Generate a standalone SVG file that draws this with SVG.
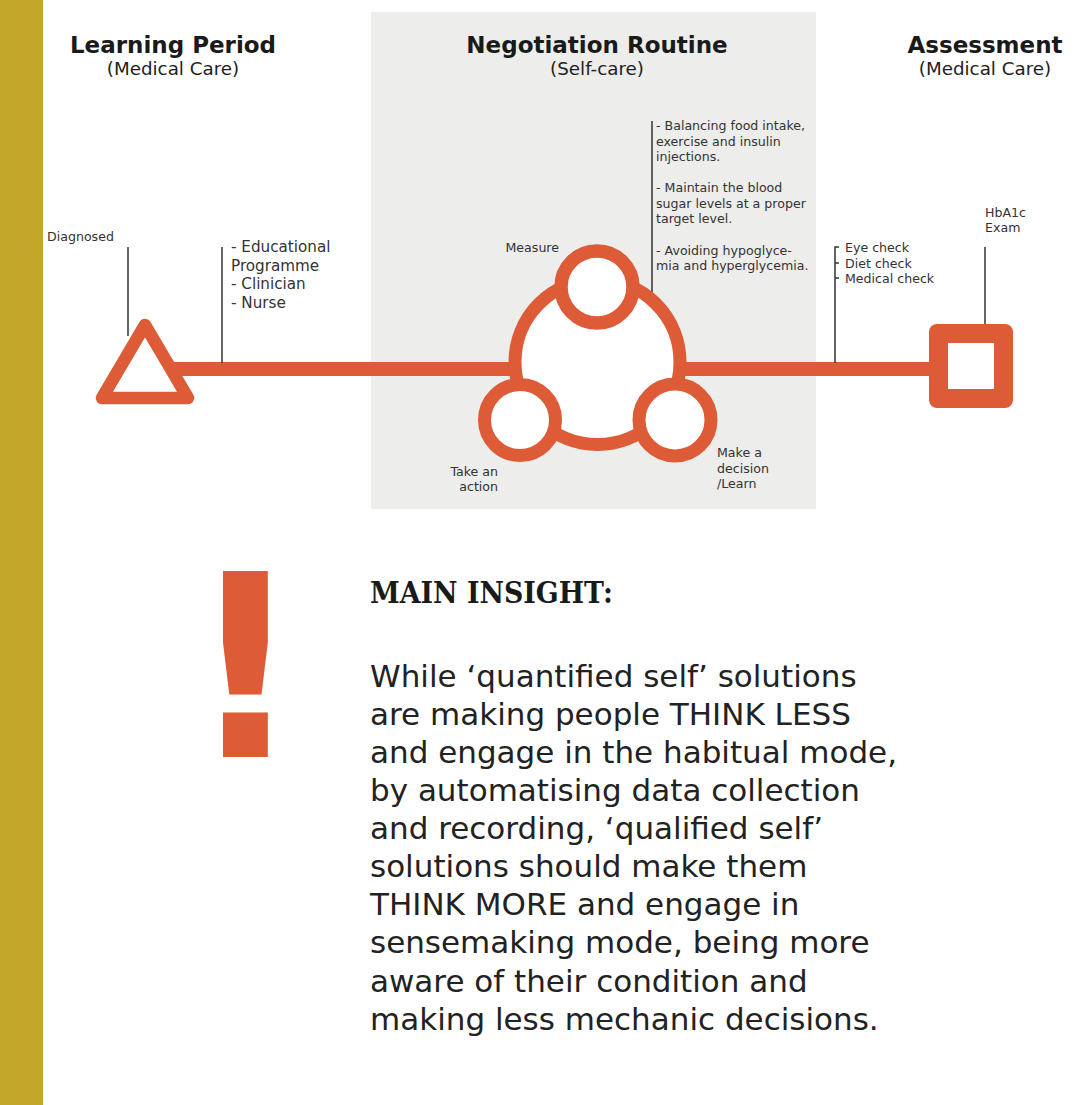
<svg xmlns="http://www.w3.org/2000/svg" width="1080" height="1105" viewBox="0 0 1080 1105">
<style>
.h{font-family:"DejaVu Sans","Liberation Sans",sans-serif;font-weight:bold;font-size:23px;fill:#1a1a1a;text-anchor:middle}
.sub{font-family:"DejaVu Sans","Liberation Sans",sans-serif;font-size:18.3px;fill:#222;text-anchor:middle}
.s{font-family:"DejaVu Sans","Liberation Sans",sans-serif;font-size:12.6px;fill:#333}
.m{font-family:"DejaVu Sans","Liberation Sans",sans-serif;font-size:15.2px;fill:#333}
.body{font-family:"DejaVu Sans","Liberation Sans",sans-serif;font-size:31px;fill:#222}
.or{stroke:#DD5B36;fill:#fff}
.vl{stroke:#333;stroke-width:1.5;fill:none}
.tl{stroke:#DD5B36;stroke-width:14;fill:none}
</style>
<rect x="0" y="0" width="1080" height="1105" fill="#fff"/>
<rect x="0" y="0" width="43" height="1105" fill="#C2A72A"/>
<rect x="371" y="12" width="445" height="497" fill="#EDEDEB"/>

<g id="headers">
<text class="h" x="173" y="53">Learning Period</text>
<text class="sub" x="173" y="75">(Medical Care)</text>
<text class="h" x="597" y="53">Negotiation Routine</text>
<text class="sub" x="597" y="75">(Self-care)</text>
<text class="h" x="985" y="53">Assessment</text>
<text class="sub" x="985" y="75">(Medical Care)</text>
</g>

<g id="connectors">
<line class="tl" x1="169" y1="369" x2="516" y2="369"/>
<line class="tl" x1="679" y1="369" x2="932" y2="369"/>
<line class="vl" x1="128" y1="247" x2="128" y2="336"/>
<line class="vl" x1="222" y1="247" x2="222" y2="363"/>
<line class="vl" x1="652" y1="121" x2="652" y2="298"/>
<path class="vl" d="M839 247 H835 V363 M835 263 H839 M835 278 H839"/>
<line class="vl" x1="985" y1="247" x2="985" y2="325"/>
</g>

<g id="node-diagnosed">
<polygon class="or" points="145,325 102,398 188,398" stroke-width="12.5" stroke-linejoin="round"/>
<text class="s" x="47" y="241">Diagnosed</text>
</g>

<g id="node-education">
<text class="m" x="231" y="252">- Educational</text>
<text class="m" x="231" y="270.5">Programme</text>
<text class="m" x="231" y="289">- Clinician</text>
<text class="m" x="231" y="307.5">- Nurse</text>
</g>

<g id="node-routine">
<circle class="or" cx="597.5" cy="362" r="82.5" stroke-width="13"/>
<circle class="or" cx="597" cy="287" r="36" stroke-width="13.5"/>
<circle class="or" cx="520" cy="420" r="35.5" stroke-width="13"/>
<circle class="or" cx="675" cy="420" r="36" stroke-width="13"/>
<text class="s" x="505.5" y="252">Measure</text>
<text class="s" x="498" y="476" text-anchor="end">Take an</text>
<text class="s" x="498" y="491" text-anchor="end">action</text>
<text class="s" x="717" y="457">Make a</text>
<text class="s" x="717" y="473">decision</text>
<text class="s" x="717" y="488">/Learn</text>
</g>

<g id="node-routine-notes">
<text class="s" x="656" y="130">- Balancing food intake,</text>
<text class="s" x="656" y="146">exercise and insulin</text>
<text class="s" x="656" y="161">injections.</text>
<text class="s" x="656" y="192">- Maintain the blood</text>
<text class="s" x="656" y="208">sugar levels at a proper</text>
<text class="s" x="656" y="223">target level.</text>
<text class="s" x="656" y="255">- Avoiding hypoglyce-</text>
<text class="s" x="656" y="270">mia and hyperglycemia.</text>
</g>

<g id="node-checks">
<text class="s" x="845" y="252">Eye check</text>
<text class="s" x="845" y="267.5">Diet check</text>
<text class="s" x="845" y="283">Medical check</text>
</g>

<g id="node-exam">
<rect x="929" y="324" width="84" height="84" rx="8" fill="#DD5B36"/>
<rect x="948" y="343" width="46" height="46" fill="#fff"/>
<text class="s" x="985" y="217">HbA1c</text>
<text class="s" x="985" y="232">Exam</text>
</g>

<g id="insight">
<text x="245.5" y="757" font-family="DejaVu Sans, sans-serif" font-weight="bold" font-size="255" fill="#DD5B36" text-anchor="middle">!</text>
<text x="370" y="603" font-family="DejaVu Serif, Liberation Serif, serif" font-weight="bold" font-size="29" fill="#1a1a1a" textLength="243" lengthAdjust="spacingAndGlyphs">MAIN INSIGHT:</text>
<text class="body" x="370" y="687">While ‘quantified self’ solutions</text>
<text class="body" x="370" y="725">are making people THINK LESS</text>
<text class="body" x="370" y="763">and engage in the habitual mode,</text>
<text class="body" x="370" y="801">by automatising data collection</text>
<text class="body" x="370" y="839">and recording, ‘qualified self’</text>
<text class="body" x="370" y="877">solutions should make them</text>
<text class="body" x="370" y="915">THINK MORE and engage in</text>
<text class="body" x="370" y="953">sensemaking mode, being more</text>
<text class="body" x="370" y="992">aware of their condition and</text>
<text class="body" x="370" y="1030">making less mechanic decisions.</text>
</g>
</svg>
